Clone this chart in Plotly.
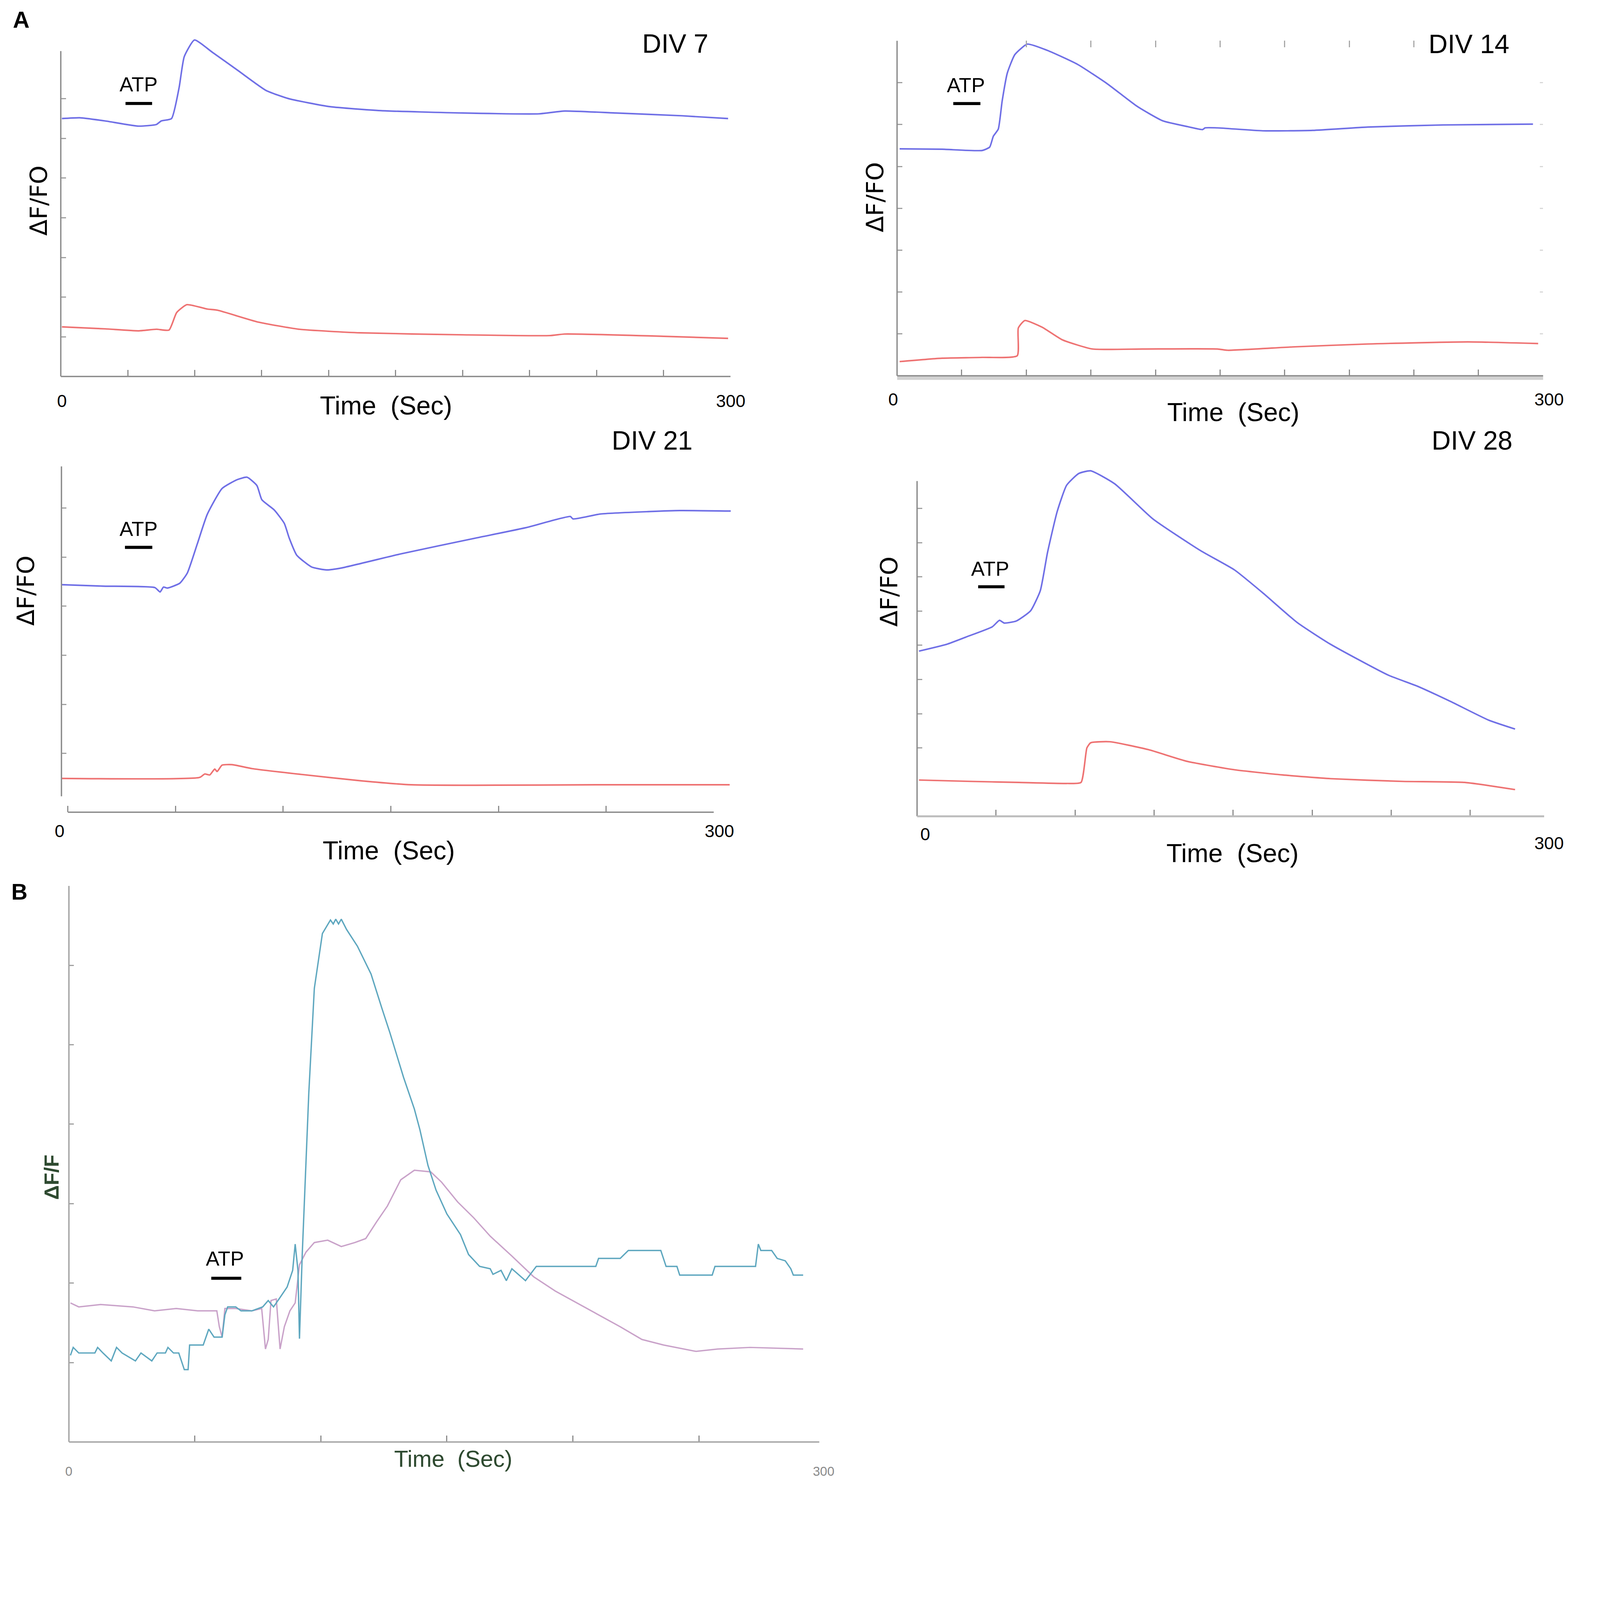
import plotly.graph_objects as go

# reference pixel space; the output page is drawn smaller so it fits the 4096 px capture
W, H = 4718, 4413
K = 4096 / W
OUT_W, OUT_H = 4096, round(H * K)

# ---- data (time in s, signal in arbitrary dF/F0 units) ----
div7_blue_t = [0.5, 8.5, 19.9, 34.8, 42.8, 45, 49.6, 53, 55.3, 59.9, 67.9, 79.4, 91.9, 102.2,
               120.5, 143.4, 180, 214.3, 225.7, 248.6, 278.3, 298.9]
div7_blue_y = [6.50, 6.52, 6.44, 6.31, 6.35, 6.44, 6.50, 7.28, 8.06, 8.48, 8.17, 7.71, 7.21, 7.0,
               6.80, 6.70, 6.64, 6.62, 6.69, 6.64, 6.57, 6.50]
div7_red_t = [0.5, 19.9, 34.8, 42.8, 48.5, 51.9, 56.5, 65.6, 70.2, 88.5, 106.8, 134.2, 180,
              218.9, 225.7, 271.5, 298.9]
div7_red_y = [1.25, 1.20, 1.15, 1.19, 1.17, 1.61, 1.81, 1.70, 1.67, 1.37, 1.19, 1.10, 1.05,
              1.03, 1.07, 1.01, 0.96]

div14_blue_t = [1.2, 20.9, 39.5, 43, 44.7, 47, 48.8, 51.2, 54.7, 60.5, 69.8, 83.7, 97.7, 111.6,
                123.3, 134.9, 141.9, 143, 148.8, 169.8, 193, 218.6, 253.5, 295.3]
div14_blue_y = [5.42, 5.41, 5.38, 5.46, 5.72, 5.89, 6.56, 7.23, 7.67, 7.92, 7.77, 7.44, 6.97, 6.43,
                6.09, 5.95, 5.88, 5.92, 5.92, 5.85, 5.86, 5.94, 5.99, 6.01]
div14_red_t = [1.2, 20.9, 39.5, 55.8, 56.3, 59.3, 67.4, 76.7, 90.7, 114, 148.8, 153.5, 183.7,
               218.6, 265.1, 297.7]
div14_red_y = [0.34, 0.42, 0.44, 0.48, 1.14, 1.32, 1.16, 0.86, 0.64, 0.64, 0.64, 0.61, 0.69,
               0.76, 0.81, 0.77]

div21_blue_t = [-3, 16.2, 40.4, 42.8, 44.4, 46.2, 52, 55.5, 60.1, 64.7, 71.6, 78.6, 83.2, 87.8,
                90.1, 95.9, 100.5, 102.8, 106.3, 113.2, 120.2, 127.1, 154.9, 189.5, 212.6,
                233.4, 234.6, 247.3, 270.4, 284.3, 307.9]
div21_blue_y = [4.44, 4.41, 4.38, 4.29, 4.39, 4.37, 4.47, 4.68, 5.27, 5.87, 6.40, 6.58, 6.63, 6.46,
                6.17, 5.96, 5.69, 5.39, 5.04, 4.80, 4.74, 4.78, 5.07, 5.39, 5.60,
                5.83, 5.78, 5.88, 5.93, 5.95, 5.94]
div21_red_t = [-3, 61.2, 63.6, 65.9, 68.2, 69.3, 71.6, 76.3, 85.5, 108.6, 136.4, 159.5, 189.5,
               247.3, 307.4]
div21_red_y = [0.49, 0.51, 0.58, 0.56, 0.68, 0.63, 0.76, 0.77, 0.69, 0.57, 0.44, 0.36, 0.35,
               0.36, 0.36]

div28_blue_t = [0.9, 14.1, 23.2, 35.7, 39.1, 41.4, 47.1, 53.9, 58.5, 61.9, 66.5, 71, 76.7, 82.4,
                93.8, 112, 134.7, 150.7, 164.3, 180.3, 196.2, 223.5, 237.2, 253.1, 271.3, 283.8]
div28_blue_y = [4.83, 5.03, 5.24, 5.54, 5.73, 5.65, 5.71, 6.01, 6.60, 7.71, 8.91, 9.68, 10.02, 10.1,
                9.72, 8.69, 7.76, 7.2, 6.52, 5.67, 5.03, 4.13, 3.81, 3.36, 2.81, 2.55]
div28_red_t = [0.9, 25.5, 48.3, 71, 77.8, 80.6, 82.4, 91.5, 109.7, 127.9, 150.7, 173.4, 196.2,
               230.3, 259.9, 283.8]
div28_red_y = [1.06, 1.02, 0.99, 0.96, 0.99, 2.00, 2.15, 2.18, 1.95, 1.61, 1.36, 1.21, 1.10,
               1.02, 0.99, 0.78]

b_cyan_t = [0.6, 1.7, 3.9, 10.3, 11.4, 13.5, 16.8, 18.9, 21.1, 26.4, 28.6, 32.9, 35, 38.3, 39.3,
            41.5, 43.6, 45.8, 47.3, 47.9, 53.3, 55.5, 57.6, 60.8, 61.9, 63, 66.2, 68.3, 72.6,
            76.9, 79.1, 81.2, 83.4, 86.6, 88.8, 89.8, 90.9, 91.5, 92.6, 95.2, 97.4, 100.6,
            103.8, 104.9, 105.9, 107, 108.1, 110.2, 114.5, 119.9, 124.2, 127.4, 132.8, 137.1,
            139.3, 142.5, 145.7, 150, 155.4, 158.6, 163, 167.2, 168.3, 171.5, 173.6, 175.8,
            181.2, 185.5, 209.1, 210.2, 218.8, 222, 234.9, 237, 241.3, 242.4, 255.3, 256.4,
            272.5, 273.6, 274.6, 278.9, 281.1, 284.3, 286.5, 287.5, 291.4]
b_cyan_y = [1.09, 1.19, 1.12, 1.12, 1.19, 1.12, 1.02, 1.19, 1.12, 1.02, 1.12, 1.02, 1.12, 1.12, 1.19,
            1.12, 1.12, 0.91, 0.91, 1.22, 1.22, 1.42, 1.32, 1.32, 1.60, 1.70, 1.70, 1.65, 1.65,
            1.70, 1.78, 1.70, 1.80, 1.95, 2.16, 2.49, 2.16, 1.30, 2.36, 4.39, 5.71, 6.40,
            6.57, 6.52, 6.58, 6.52, 6.58, 6.45, 6.24, 5.89, 5.46, 5.15, 4.59, 4.19,
            3.93, 3.48, 3.17, 2.87, 2.61, 2.36, 2.21, 2.18, 2.11, 2.16, 2.03, 2.18,
            2.03, 2.21, 2.21, 2.31, 2.31, 2.41, 2.41, 2.21, 2.21, 2.10, 2.10, 2.21,
            2.21, 2.49, 2.41, 2.41, 2.31, 2.28, 2.18, 2.10, 2.10]
b_mauve_t = [0.6, 3.9, 12.5, 25.4, 34, 42.6, 51.1, 58.7, 59.7, 60.8, 61.9, 66.2, 72.6, 76.5, 78,
             79.1, 80.2, 82.3, 83.8, 85.5, 87.7, 89.8, 91.5, 94.1, 97.4, 102.7, 108.1, 113.5,
             117.8, 122.1, 126.4, 131.7, 137.1, 143.6, 147.9, 154.3, 160.7, 167.2, 175.8,
             184.4, 193, 201.6, 210.2, 218.8, 227.4, 236, 248.9, 257.5, 270.3, 283.2, 291.4]
b_mauve_y = [1.75, 1.70, 1.73, 1.70, 1.65, 1.68, 1.65, 1.65, 1.45, 1.32, 1.68, 1.68, 1.65, 1.68, 1.17,
             1.29, 1.78, 1.80, 1.17, 1.45, 1.65, 1.75, 2.23, 2.39, 2.51, 2.54, 2.46, 2.51,
             2.56, 2.77, 2.97, 3.30, 3.42, 3.40, 3.27, 3.02, 2.82, 2.59, 2.34,
             2.08, 1.90, 1.75, 1.60, 1.45, 1.29, 1.22, 1.14, 1.17, 1.19, 1.18, 1.17]

# ATP application bars (start s, end s, level)
atp_bars = [(29.0, 40.9, 6.88), (26.1, 38.7, 6.50), (26.5, 39.2, 5.20), (29.0, 41.5, 6.71),
            (56.5, 68.4, 2.06)]
panel_titles = ["DIV 7", "DIV 14", "DIV 21", "DIV 28"]
# DIV 14 frame also carries ticks along its top and right edges
div14_top_ticks = [60, 90, 120, 150, 180, 210, 240]
div14_right_ticks = [1, 2, 3, 4, 5, 6, 7]


def px(x):
    return x / W


def py(y):
    return 1 - y / H


BLUE, RED = "#6f6fe6", "#ee7272"
TEAL, MAUVE = "#5ea7bf", "#c9a2c9"
AX = "#8c8c8c"

# pixel frames (reference pixels): (left, right, bottom, top), x range, y range
frames = [
    ((170, 2145, 1101, 83), [0, 300], [0, 8.7]),
    ((2636, 4541, 1099, 111), [0, 300], [0, 8.0]),
    ((172, 2150, 2386, 1359), [-3, 308.6], [-0.2, 6.9]),
    ((2695, 4559, 2398, 1359), [0, 300], [0, 10.3]),
    ((194, 2423, 4243, 2603), [0, 300], [0, 7.0]),
]

series = [
    [(div7_blue_t, div7_blue_y, BLUE), (div7_red_t, div7_red_y, RED)],
    [(div14_blue_t, div14_blue_y, BLUE), (div14_red_t, div14_red_y, RED)],
    [(div21_blue_t, div21_blue_y, BLUE), (div21_red_t, div21_red_y, RED)],
    [(div28_blue_t, div28_blue_y, BLUE), (div28_red_t, div28_red_y, RED)],
    [(b_mauve_t, b_mauve_y, MAUVE), (b_cyan_t, b_cyan_y, TEAL)],
]

xticks = [list(range(30, 300, 30)), list(range(30, 300, 30)), list(range(0, 300, 50)),
          [37.5 * k for k in range(1, 8)], list(range(50, 300, 50))]
yticks = [list(range(1, 8)), list(range(1, 8)), list(range(1, 7)), list(range(2, 10)),
          list(range(1, 7))]

fig = go.Figure()
layout = {}
shapes = []
for i, ((l, r, b, t), xr, yr) in enumerate(frames):
    n = "" if i == 0 else str(i + 1)
    xa, ya = "x" + n, "y" + n
    for xs, ys, c in series[i]:
        if i < 4:
            ln = dict(color=c, width=4.5 * K, shape="spline", smoothing=0.5)
        else:
            ln = dict(color=c, width=4 * K)
        fig.add_trace(go.Scatter(x=xs, y=ys, mode="lines", xaxis=xa, yaxis=ya,
                                 line=ln, showlegend=False, hoverinfo="skip"))
    layout["xaxis" + n] = dict(domain=[px(l), px(r)], range=xr, anchor=ya, showgrid=False,
                               zeroline=False, showline=False, showticklabels=False,
                               ticks="inside", tickvals=xticks[i], ticklen=19 * K, tickwidth=3 * K,
                               tickcolor=AX)
    layout["yaxis" + n] = dict(domain=[py(b), py(t)], range=yr, anchor=xa, showgrid=False,
                               zeroline=False, showline=False, showticklabels=False,
                               ticks="inside", tickvals=yticks[i], ticklen=15 * K, tickwidth=3 * K,
                               tickcolor="#a0a0a0")

# extra tick rows on the DIV 14 frame (top and right edges); the invisible helper
# traces only make plotly draw those overlay axes
layout["xaxis6"] = dict(overlaying="x2", side="top", anchor="y2", range=frames[1][1],
                        showgrid=False, zeroline=False, showline=False, showticklabels=False,
                        ticks="inside", tickvals=div14_top_ticks, ticklen=19 * K,
                        tickwidth=3 * K, tickcolor="#a8a8a8")
layout["yaxis6"] = dict(overlaying="y2", side="right", anchor="x2", range=frames[1][2],
                        showgrid=False, zeroline=False, showline=False, showticklabels=False,
                        ticks="inside", tickvals=div14_right_ticks, ticklen=10 * K,
                        tickwidth=3 * K, tickcolor="#d8d8d8")
fig.add_trace(go.Scatter(x=div14_red_t, y=div14_red_y, xaxis="x6", yaxis="y2", mode="lines",
                         line=dict(width=0), opacity=0, showlegend=False, hoverinfo="skip"))
fig.add_trace(go.Scatter(x=div14_red_t, y=div14_red_y, xaxis="x2", yaxis="y6", mode="lines",
                         line=dict(width=0), opacity=0, showlegend=False, hoverinfo="skip"))

# axis lines drawn as segments, since the originals stop short of the plot box
ylines = [(0, 8.2), (0, 8.0), (0.125, 6.85), (0, 9.8), (0, 7.0)]
xlines = [(0, 300), (0, 301), (0, 300), (0, 297.6), (0, 297.8)]
for i in range(5):
    n = "" if i == 0 else str(i + 1)
    col = "#a3a3a3" if i == 4 else AX
    if i == 1:
        shapes.append(dict(type="line", xref="x2", yref="y2 domain", x0=0, x1=xlines[i][1],
                           y0=-0.006, y1=-0.006, line=dict(color="#d2d2d2", width=12 * K)))
    shapes.append(dict(type="line", xref="x" + n + " domain", yref="y" + n, x0=0, x1=0,
                       y0=ylines[i][0], y1=ylines[i][1], line=dict(color=col, width=4 * K)))
    xcol = "#bdbdbd" if i == 3 else col
    shapes.append(dict(type="line", xref="x" + n, yref="y" + n + " domain", x0=xlines[i][0],
                       x1=xlines[i][1], y0=0, y1=0,
                       line=dict(color=xcol, width=(6 if i == 3 else 4) * K)))
    a0, a1, lv = atp_bars[i]
    shapes.append(dict(type="line", xref="x" + n, yref="y" + n, x0=a0, x1=a1, y0=lv, y1=lv,
                       line=dict(color="black", width=9 * K)))

SANS = "Liberation Sans, Arial, sans-serif"
annotations = []


def note(text, x, y, size, color="black", family=SANS, angle=0):
    annotations.append(dict(text=text, x=px(x), y=py(y), xref="paper", yref="paper",
                            xanchor="center", yanchor="middle", showarrow=False,
                            textangle=angle, font=dict(size=size * K, color=color, family=family)))


note("<b>A</b>", 53, 50, 68, family="Liberation Sans, Arial")
note("<b>B</b>", 48, 2621, 66, family="Liberation Sans, Arial")

title_pos = [(1982, 119), (4322, 120), (1914, 1289), (4332, 1289)]
time_pos = [(1129, 1186), (3627, 1206), (1137, 2498), (3625, 2507)]
zero_pos = [(173, 1173), (2625, 1169), (166, 2442), (2719, 2451)]
end_pos = [(2145, 1173), (4558, 1169), (2112, 2442), (4558, 2477)]
atp_pos = [(399, 240), (2839, 242), (399, 1551), (2910, 1668)]
ylab_pos = [(105, 582), (2570, 572), (66, 1732), (2613, 1736)]
for i in range(4):
    note(panel_titles[i], *title_pos[i], 78)
    note("Time  (Sec)", *time_pos[i], 76)
    note("0", *zero_pos[i], 52)
    note("300", *end_pos[i], 52)
    note("ATP", *atp_pos[i], 60)
    note("ΔF/FO", *ylab_pos[i], 70, family="DejaVu Sans, Verdana", angle=-90)

GREEN = "#2e4a30"
note("<b>ΔF/F</b>", 143, 3462, 60, color=GREEN, family="Liberation Sans, Arial", angle=-90)
note("Time  (Sec)", 1327, 4293, 68, color=GREEN)
note("0", 194, 4329, 38, color="#8a8a8a")
note("300", 2420, 4329, 38, color="#8a8a8a")
note("ATP", 654, 3702, 60)

fig.update_layout(**layout)
fig.update_layout(width=OUT_W, height=OUT_H, margin=dict(l=0, r=0, t=0, b=0),
                  paper_bgcolor="white", plot_bgcolor="white",
                  shapes=shapes, annotations=annotations, showlegend=False)
fig.write_html("out.html")
